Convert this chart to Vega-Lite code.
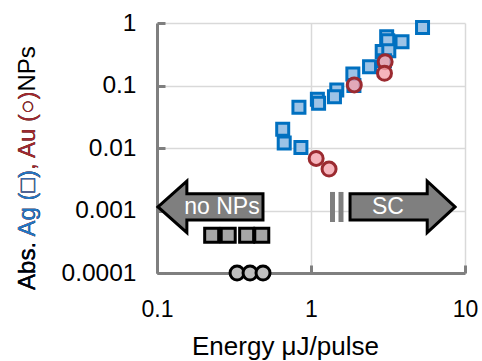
{
  "$schema": "https://vega.github.io/schema/vega-lite/v6.json",
  "width": 308,
  "height": 250,
  "autosize": {"type": "none"},
  "padding": {"left": 157, "top": 23, "right": 17, "bottom": 88},
  "background": "white",
  "config": {"view": {"stroke": null}, "font": "Liberation Sans"},
  "datasets": {
    "ag": [
      {"x": 5.3, "y": 0.85}, {"x": 3.1, "y": 0.6}, {"x": 3.15, "y": 0.52}, {"x": 3.9, "y": 0.5},
      {"x": 2.9, "y": 0.35}, {"x": 3.2, "y": 0.36}, {"x": 3.0, "y": 0.25}, {"x": 2.4, "y": 0.2},
      {"x": 1.87, "y": 0.153}, {"x": 1.9, "y": 0.1}, {"x": 1.47, "y": 0.085}, {"x": 1.42, "y": 0.066},
      {"x": 1.1, "y": 0.06}, {"x": 1.12, "y": 0.052}, {"x": 0.835, "y": 0.045}, {"x": 0.655, "y": 0.02},
      {"x": 0.67, "y": 0.012}, {"x": 0.86, "y": 0.0102}
    ],
    "au": [
      {"x": 3.03, "y": 0.24}, {"x": 3.0, "y": 0.157}, {"x": 1.91, "y": 0.102},
      {"x": 1.08, "y": 0.0068}, {"x": 1.31, "y": 0.0046}
    ],
    "agnone": [
      {"x": 0.2265, "y": 0.0004}, {"x": 0.29, "y": 0.0004}, {"x": 0.382, "y": 0.0004}, {"x": 0.479, "y": 0.0004}
    ],
    "aunone": [
      {"x": 0.331, "y": 0.0001}, {"x": 0.402, "y": 0.0001}, {"x": 0.488, "y": 0.0001}
    ],
    "leftarrow": [{"x": 0.2225, "y": 0.00114, "label": "no NPs", "tx": 0.264}],
    "rightarrow": [{"x": 3.93, "y": 0.00114, "label": "SC", "tx": 3.16}],
    "bars": [
      {"x": 1.379, "y": 0.00198, "y2": 0.000655},
      {"x": 1.566, "y": 0.00198, "y2": 0.000655}
    ],
    "ytitle": [
      {"x": 0.0145, "y": 0.0000535, "label": "Abs. Ag (□), Au (○)NPs", "part": "full"},
      {"x": 0.0145, "y": 0.0000535, "label": "Abs. Ag (□), Au (○)", "part": "au"},
      {"x": 0.0145, "y": 0.0000535, "label": "Abs. Ag (□)", "part": "ag"},
      {"x": 0.0145, "y": 0.0000535, "label": "Abs.", "part": "abs"}
    ]
  },
  "layer": [
    {
      "data": {"name": "agnone"},
      "mark": {"type": "point", "shape": "square", "filled": true, "fill": "#A6A6A6", "stroke": "#000000", "strokeWidth": 3, "size": 196, "opacity": 1},
      "encoding": {
        "x": {"field": "x", "type": "quantitative", "scale": {"type": "log", "domain": [0.1, 10], "nice": false},
          "title": "Energy μJ/pulse",
          "axis": {"values": [0.1, 1, 10], "format": "~g", "labelFontSize": 23, "labelColor": "#000000", "labelFont": "Liberation Sans",
            "domainColor": "#7f7f7f", "domainWidth": 3, "tickColor": "#7f7f7f", "tickWidth": 3, "tickSize": -8, "labelPadding": 33,
            "grid": true, "gridColor": "#d9d9d9", "gridWidth": 1.5, "titleFontSize": 26, "titleFontWeight": "normal", "titleColor": "#000000",
            "titleFont": "Liberation Sans", "titleX": 128, "titleY": 81, "titleAlign": "center", "titleBaseline": "alphabetic",
            "labelFlush": false, "labelOverlap": false}},
        "y": {"field": "y", "type": "quantitative", "scale": {"type": "log", "domain": [0.0001, 1], "nice": false},
          "title": null,
          "axis": {"values": [0.0001, 0.001, 0.01, 0.1, 1], "format": "~g", "labelFontSize": 24.5, "labelColor": "#000000", "labelFont": "Liberation Sans",
            "domainColor": "#7f7f7f", "domainWidth": 3, "tickColor": "#7f7f7f", "tickWidth": 3, "tickSize": -8, "labelPadding": 29,
            "grid": true, "gridColor": "#d9d9d9", "gridWidth": 1.5, "labelFlush": false, "labelOverlap": false}}
      }
    },
    {
      "data": {"name": "aunone"},
      "mark": {"type": "point", "shape": "circle", "filled": true, "fill": "#BFBFBF", "stroke": "#000000", "strokeWidth": 3, "size": 196, "opacity": 1, "clip": false},
      "encoding": {"x": {"field": "x", "type": "quantitative"}, "y": {"field": "y", "type": "quantitative"}}
    },
    {
      "data": {"name": "leftarrow"},
      "layer": [
        {
          "mark": {"type": "point", "shape": "M-1,0L-0.45,-0.49L-0.45,-0.25L1,-0.25L1,0.25L-0.45,0.25L-0.45,0.49Z", "filled": true, "fill": "#7f7f7f", "stroke": "#000000", "strokeWidth": 3, "size": 11025, "opacity": 1},
          "encoding": {"x": {"field": "x", "type": "quantitative"}, "y": {"field": "y", "type": "quantitative"}}
        },
        {
          "mark": {"type": "text", "color": "#ffffff", "fontSize": 23, "font": "Liberation Sans", "baseline": "middle", "align": "center"},
          "encoding": {"x": {"field": "tx", "type": "quantitative"}, "y": {"field": "y", "type": "quantitative"}, "text": {"field": "label"}}
        }
      ]
    },
    {
      "data": {"name": "rightarrow"},
      "layer": [
        {
          "mark": {"type": "point", "shape": "M1,0L0.47,-0.49L0.47,-0.25L-1,-0.25L-1,0.25L0.47,0.25L0.47,0.49Z", "filled": true, "fill": "#7f7f7f", "stroke": "#000000", "strokeWidth": 3, "size": 11025, "opacity": 1},
          "encoding": {"x": {"field": "x", "type": "quantitative"}, "y": {"field": "y", "type": "quantitative"}}
        },
        {
          "mark": {"type": "text", "color": "#ffffff", "fontSize": 23, "font": "Liberation Sans", "baseline": "middle", "align": "center"},
          "encoding": {"x": {"field": "tx", "type": "quantitative"}, "y": {"field": "y", "type": "quantitative"}, "text": {"field": "label"}}
        }
      ]
    },
    {
      "data": {"name": "bars"},
      "mark": {"type": "rule", "color": "#7f7f7f", "strokeWidth": 5},
      "encoding": {"x": {"field": "x", "type": "quantitative"}, "y": {"field": "y", "type": "quantitative"}, "y2": {"field": "y2"}}
    },
    {
      "data": {"name": "ag"},
      "mark": {"type": "point", "shape": "square", "filled": true, "fill": "#9DC3E6", "stroke": "#0070C0", "strokeWidth": 3, "size": 144, "opacity": 1},
      "encoding": {"x": {"field": "x", "type": "quantitative"}, "y": {"field": "y", "type": "quantitative"}}
    },
    {
      "data": {"name": "au"},
      "mark": {"type": "point", "shape": "circle", "filled": true, "fill": "#F4A3AC", "fillOpacity": 0.8, "stroke": "#9B2A30", "strokeWidth": 3, "strokeOpacity": 1, "size": 196},
      "encoding": {"x": {"field": "x", "type": "quantitative"}, "y": {"field": "y", "type": "quantitative"}}
    },
    {
      "data": {"name": "ytitle"},
      "mark": {"type": "text", "angle": 270, "align": "left", "baseline": "middle", "fontSize": 24, "font": "Liberation Sans"},
      "encoding": {
        "x": {"field": "x", "type": "quantitative"},
        "y": {"field": "y", "type": "quantitative"},
        "text": {"field": "label"},
        "color": {"field": "part", "type": "nominal", "legend": null,
          "scale": {"domain": ["full", "au", "ag", "abs"], "range": ["#000000", "#A0282E", "#1F77C4", "#000000"]}}
      }
    }
  ]
}
